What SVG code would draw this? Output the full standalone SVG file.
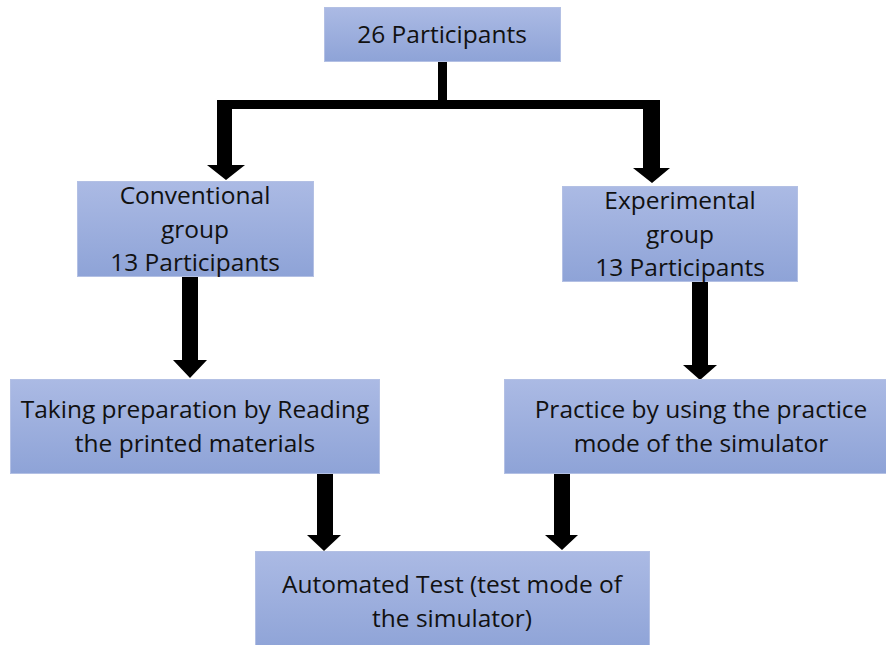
<svg xmlns="http://www.w3.org/2000/svg" width="886" height="645" viewBox="0 0 886 645">
<defs>
<linearGradient id="g" x1="0" y1="0" x2="0" y2="1">
<stop offset="0" stop-color="#abbae4"/>
<stop offset="1" stop-color="#8ea3d7"/>
</linearGradient>
<style>
.box{fill:url(#g);stroke:#b3c0e4;stroke-width:1}
.t{font-family:"Open Sans","Liberation Sans",sans-serif;font-size:24.5px;fill:#111;text-anchor:middle}
.a{fill:#000}
</style>
</defs>
<rect width="886" height="645" fill="#fff"/>
<g id="connectors">
<path class="a" d="M438,61H447V100H660V168H670L652,183L633,168H643V109H232V165H245L226,180L207,165H217V100H438Z"/>
<path class="a" d="M182,276H198V360H207L190,378L173,360H182Z"/>
<path class="a" d="M692,281H708V365H717L700,380L683,365H692Z"/>
<path class="a" d="M317,474H333V535H341L324,551L307,535H317Z"/>
<path class="a" d="M554,474H570V535H578L562,550L545,535H554Z"/>
</g>
<g id="n1">
<rect class="box" x="324.5" y="7.5" width="236" height="54"/>
<text class="t" x="442" y="43">26 Participants</text>
</g>
<g id="n2">
<rect class="box" x="77.5" y="181.5" width="236" height="95"/>
<text class="t" x="195" y="204">Conventional</text>
<text class="t" x="195" y="238">group</text>
<text class="t" x="195" y="271">13 Participants</text>
</g>
<g id="n3">
<rect class="box" x="562.5" y="186.5" width="235" height="95"/>
<text class="t" x="680" y="209">Experimental</text>
<text class="t" x="680" y="243">group</text>
<text class="t" x="680" y="276">13 Participants</text>
</g>
<g id="n4">
<rect class="box" x="10.5" y="379.5" width="369" height="94"/>
<text class="t" x="195" y="418">Taking preparation by Reading</text>
<text class="t" x="195" y="452">the printed materials</text>
</g>
<g id="n5">
<rect class="box" x="504.5" y="379.5" width="390" height="94"/>
<text class="t" x="701" y="418">Practice by using the practice</text>
<text class="t" x="701" y="452">mode of the simulator</text>
</g>
<g id="n6">
<rect class="box" x="255.5" y="551.5" width="394" height="100"/>
<text class="t" x="452" y="593">Automated Test (test mode of</text>
<text class="t" x="452" y="627">the simulator)</text>
</g>
</svg>
